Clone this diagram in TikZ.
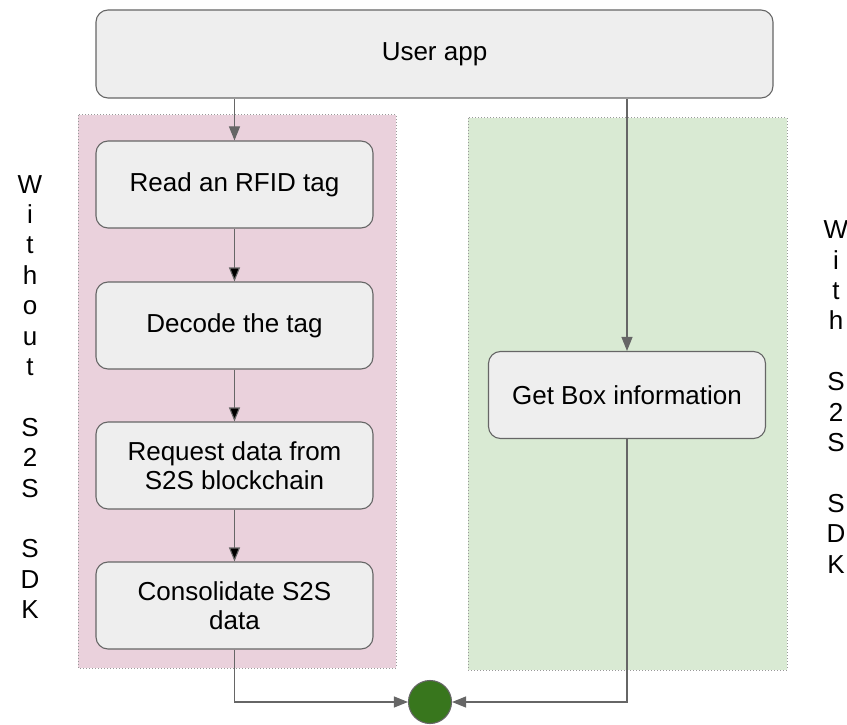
\documentclass[tikz,border=0pt]{standalone}
\usepackage{fontspec}
\setmainfont{Liberation Sans}
\usetikzlibrary{arrows.meta}
\definecolor{boxfill}{HTML}{EEEEEE}
\definecolor{boxline}{HTML}{666666}
\definecolor{pinkbg}{HTML}{EAD1DC}
\definecolor{greenbg}{HTML}{D9EAD3}
\definecolor{donegreen}{HTML}{38761D}
\begin{document}
\begin{tikzpicture}[x=1pt,y=-1pt,
  stepbox/.style={draw=boxline, fill=boxfill, rounded corners=12pt, line width=1.1pt,
    minimum width=277pt, minimum height=87pt, align=center, inner sep=0pt},
  region/.style={draw=black!40, dotted, line width=1pt},
  flow/.style={-{Triangle[length=14pt,width=11pt]}, draw=boxline, line width=1.1pt},
  sidetext/.style={align=center, inner sep=0pt, font=\fontsize{26}{30.4}\selectfont}]
  \useasboundingbox (0,0) rectangle (847,725);
  \begin{scope}[font=\fontsize{26}{29}\selectfont]
  % background regions
  \fill[pinkbg] (78,115) rectangle (396,668);
  \draw[region] (78,115) rectangle (396,668);
  \fill[greenbg] (468,118) rectangle (787,670);
  \draw[region] (468,118) rectangle (787,670);

  \node[stepbox, minimum width=677pt, minimum height=88pt] (app) at (434.5,54) {User app};
  \node[stepbox] (read) at (234.5,184.5) {Read an RFID tag};
  \node[stepbox] (decode) at (234.5,325.5) {Decode the tag};
  \node[stepbox] (request) at (234.5,465.5) {Request data from\\S2S blockchain};
  \node[stepbox] (consolidate) at (234.5,605.5) {Consolidate S2S\\data};
  \node[stepbox] (getbox) at (627,395) {Get Box information};
  \node[circle, draw=boxline, fill=donegreen, line width=1.1pt, minimum size=43pt, inner sep=0pt] (done) at (430,702) {};
  \end{scope}

  \node[sidetext] (without) at (30,397) {W\\i\\t\\h\\o\\u\\t\\\mbox{}\\S\\2\\S\\\mbox{}\\S\\D\\K};
  \node[sidetext] (with) at (836,397) {W\\i\\t\\h\\\mbox{}\\S\\2\\S\\\mbox{}\\S\\D\\K};

  \path[flow] (read |- app.south) -- (read.north);
  \path[flow] (read) edge (decode) (decode) edge (request) (request) edge (consolidate);
  \path[flow] (getbox |- app.south) -- (getbox.north);
  \path[flow] (consolidate.south) |- (done.west);
  \path[flow] (getbox.south) |- (done.east);
\end{tikzpicture}
\end{document}
